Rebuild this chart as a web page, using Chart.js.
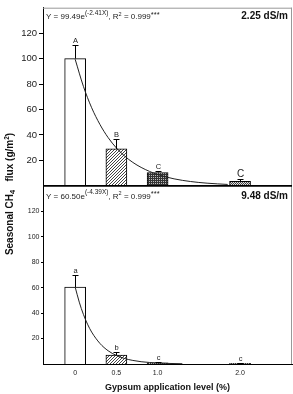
<!DOCTYPE html>
<html>
<head>
<meta charset="utf-8">
<script src="https://cdn.jsdelivr.net/npm/chart.js@4.4.0/dist/chart.umd.min.js"></script>
<style>
  html, body { margin: 0; padding: 0; background: #fff; }
  #wrap { width: 293px; height: 394px; }
</style>
</head>
<body>
<div id="wrap"><canvas id="grafik" width="293" height="394"></canvas></div>
<script>
// data
const doses = [0, 0.5, 1.0, 2.0];
const tickLabels = ['0', '0.5', '1.0', '2.0'];
const yTicks = [20, 40, 60, 80, 100, 120];

// 2.25 dS/m
const flux225 = [100, 29, 10.5, 3.5];
const err225 = [111, 37, 12, 5];
const letters225 = ['A', 'B', 'C', 'C'];
const fitX225 = [0, 0.1, 0.2, 0.3, 0.4, 0.5, 0.6, 0.7, 0.8, 0.9, 1.0, 1.2, 1.4, 1.6, 1.85];
const fit225 = [99.5, 78.2, 61.4, 48.3, 37.9, 29.8, 23.4, 18.4, 14.5, 11.4, 8.9, 5.5, 3.4, 2.1, 1.1];

// 9.48 dS/m
const flux948 = [60.5, 7, 1, 0.6];
const err948 = [70, 9.5, 1.5, 0.9];
const letters948 = ['a', 'b', 'c', 'c'];
const fitX948 = [0, 0.05, 0.1, 0.15, 0.2, 0.3, 0.4, 0.5, 0.6, 0.7, 0.8, 0.9, 1.0, 1.1, 1.3];
const fit948 = [60.5, 48.6, 39.0, 31.3, 25.1, 16.2, 10.4, 6.7, 4.3, 2.8, 1.8, 1.2, 0.75, 0.5, 0.2];

const ctx = document.getElementById('grafik').getContext('2d');
const FONT = '"Liberation Sans", Arial, sans-serif';

// pola arsir untuk batang
function pola(bg, fg, pixels, size) {
    const c = document.createElement('canvas');
    c.width = size; c.height = size;
    const g = c.getContext('2d');
    g.fillStyle = bg;
    g.fillRect(0, 0, size, size);
    g.fillStyle = fg;
    pixels.forEach(p => g.fillRect(p[0], p[1], 1, 1));
    return ctx.createPattern(c, 'repeat');
}
const diag = pola('#fff', '#444', [[0, 2], [1, 1], [2, 0]], 3);
const silang = pola('#333', '#bbb', [[1, 1]], 2);
const silang2 = pola('#ddd', '#444', [[0, 0], [1, 1]], 2);
const isiBatang = ['#fff', diag, silang, silang2];

function xy(xs, ys) { return xs.map((x, i) => ({ x: x, y: ys[i] })); }

// teks dengan superskrip / subskrip
function teksKaya(g, parts, x, y, align) {
    let total = 0;
    parts.forEach(p => {
        g.font = (p.bold ? 'bold ' : '') + p.size + 'px ' + FONT;
        p.w = g.measureText(p.t).width;
        total += p.w;
    });
    let cx = align === 'right' ? x - total : (align === 'center' ? x - total / 2 : x);
    parts.forEach(p => {
        g.font = (p.bold ? 'bold ' : '') + p.size + 'px ' + FONT;
        g.fillText(p.t, cx, y + (p.dy || 0));
        cx += p.w;
    });
}

function persamaan(a, b) {
    return [
        { t: 'Y = ' + a + 'e', size: 8 },
        { t: '(' + b + 'X)', size: 6.5, dy: -4.5 },
        { t: ', R', size: 8 },
        { t: '2', size: 5.5, dy: -3.5 },
        { t: ' = 0.999', size: 8 },
        { t: '***', size: 7.5, dy: -2.5 }
    ];
}

const hiasan = {
    id: 'hiasan',
    afterDatasetsDraw(chart) {
        const g = chart.ctx;
        const xs = chart.scales.x;
        const a = chart.chartArea;
        const panels = [
            { y: chart.scales.yTop, flux: flux225, err: err225, huruf: letters225, besar: [7.5, 7.5, 7.5, 10] },
            { y: chart.scales.yBot, flux: flux948, err: err948, huruf: letters948, besar: [7.5, 7.5, 7.5, 7.5] }
        ];
        g.save();
        g.strokeStyle = '#000';
        g.fillStyle = '#222';
        g.lineWidth = 1;
        g.textAlign = 'center';
        g.textBaseline = 'alphabetic';
        panels.forEach(p => {
            doses.forEach((d, i) => {
                const px = Math.round(xs.getPixelForValue(d)) + 0.5;
                const y1 = p.y.getPixelForValue(p.flux[i]);
                const y2 = Math.round(p.y.getPixelForValue(p.err[i])) + 0.5;
                g.beginPath();
                g.moveTo(px, y1); g.lineTo(px, y2);
                g.moveTo(px - 3, y2); g.lineTo(px + 3, y2);
                g.stroke();
                g.font = p.besar[i] + 'px ' + FONT;
                g.fillText(p.huruf[i], px, y2 - 2.5);
            });
        });

        // bingkai
        const mid = chart.scales.yTop.bottom;
        g.strokeStyle = '#999';
        g.beginPath();
        g.moveTo(a.left, a.top + 0.5); g.lineTo(a.right, a.top + 0.5);
        g.moveTo(a.right - 0.5, a.top); g.lineTo(a.right - 0.5, a.bottom);
        g.stroke();
        g.strokeStyle = '#000';
        g.lineWidth = 1.6;
        g.beginPath();
        g.moveTo(a.left, mid); g.lineTo(a.right, mid);
        g.stroke();

        // persamaan
        g.textAlign = 'left';
        g.fillStyle = '#222';
        teksKaya(g, persamaan('99.49', '-2.41'), 46, a.top + 11.5, 'left');
        teksKaya(g, persamaan('60.50', '-4.39'), 46, mid + 13, 'left');
        g.fillStyle = '#111';
        teksKaya(g, [{ t: '2.25 dS/m', size: 10, bold: true }], 288, a.top + 11.5, 'right');
        teksKaya(g, [{ t: '9.48 dS/m', size: 10, bold: true }], 288, mid + 13, 'right');

        // judul sumbu
        teksKaya(g, [{ t: 'Gypsum application level (%)', size: 9, bold: true }], (a.left + a.right) / 2, 389.5, 'center');
        g.translate(12.5, 194);
        g.rotate(-Math.PI / 2);
        teksKaya(g, [
            { t: 'Seasonal CH', size: 10, bold: true },
            { t: '4', size: 7.5, bold: true, dy: 2.5 },
            { t: '   flux (g/m', size: 10, bold: true },
            { t: '2', size: 6.5, bold: true, dy: -3.5 },
            { t: ')', size: 10, bold: true }
        ], 0, 0, 'center');
        g.restore();
    }
};

function sumbuY(ukuran, tl, pad) {
    return {
        type: 'linear',
        position: 'left',
        stack: 'panel',
        stackWeight: 1,
        min: 0,
        max: 140,
        afterBuildTicks: s => { s.ticks = yTicks.map(v => ({ value: v })); },
        afterFit: s => { s.width = 43; },
        ticks: { font: { size: ukuran, family: FONT }, color: '#222', padding: pad },
        grid: { drawOnChartArea: false, drawTicks: true, tickLength: tl, color: '#000' },
        border: { color: '#000', width: 1 }
    };
}

const myChart = new Chart(ctx, {
    data: {
        datasets: [
            {
                type: 'line', data: xy(fitX225, fit225), yAxisID: 'yTop',
                borderColor: '#222', borderWidth: 1, pointRadius: 0,
                cubicInterpolationMode: 'monotone', order: 0
            },
            {
                type: 'line', data: xy(fitX948, fit948), yAxisID: 'yBot',
                borderColor: '#222', borderWidth: 1, pointRadius: 0,
                cubicInterpolationMode: 'monotone', order: 0
            },
            {
                type: 'bar', data: xy(doses, flux225), yAxisID: 'yTop',
                backgroundColor: isiBatang, borderColor: '#000', borderWidth: 1,
                barThickness: 21, grouped: false, order: 1
            },
            {
                type: 'bar', data: xy(doses, flux948), yAxisID: 'yBot',
                backgroundColor: isiBatang, borderColor: '#000', borderWidth: 1,
                barThickness: 21, grouped: false, order: 1
            }
        ]
    },
    options: {
        responsive: false,
        animation: false,
        layout: { padding: { top: 5, right: 1, left: 0, bottom: 0 } },
        plugins: { legend: { display: false }, tooltip: { enabled: false } },
        scales: {
            x: {
                type: 'linear',
                offset: false,
                min: -0.39,
                max: 2.63,
                afterBuildTicks: s => { s.ticks = doses.map(v => ({ value: v })); },
                afterFit: s => { s.height = 30; },
                ticks: {
                    callback: (v, i) => tickLabels[i],
                    font: { size: 7, family: FONT }, color: '#222',
                    padding: 5, maxRotation: 0, autoSkip: false
                },
                grid: { display: false, drawTicks: false, offset: false },
                border: { color: '#000', width: 1 }
            },
            // urutan: yang didefinisikan belakangan tampil di atas
            yBot: sumbuY(7, 2, 1.5),
            yTop: sumbuY(9.5, 4, 2)
        }
    },
    plugins: [hiasan]
});
</script>
</body>
</html>
